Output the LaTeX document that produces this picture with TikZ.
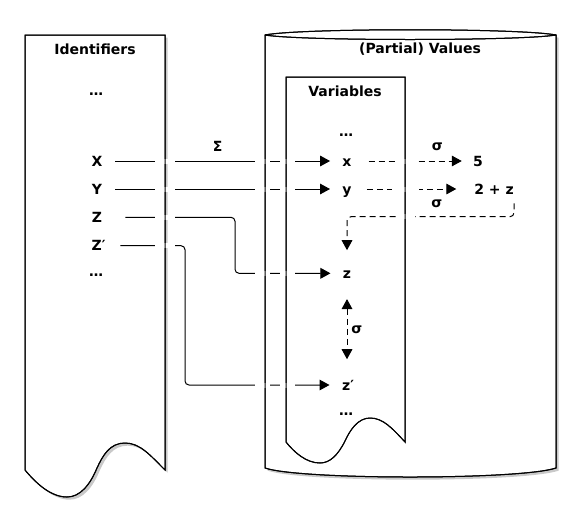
\documentclass[tikz,border=0pt]{standalone}
\usepackage{fontspec}
\setmainfont{DejaVu Sans}
\usetikzlibrary{arrows.meta, shadows}

\tikzset{
    lbl/.style={font=\fontsize{10.5}{12}\selectfont\bfseries, text height=7.6pt, text depth=0pt},
    outline/.style={draw=black, line width=0.75pt},
    shaded/.style={fill=white, drop shadow={shadow xshift=2pt, shadow yshift=-2pt, opacity=0.3, fill=black!70}},
    link/.style={line width=0.75pt, rounded corners=3pt},
    linkarr/.style={link, -{Triangle[length=7.5pt, width=8pt]}},
    sigarr/.style={line width=0.75pt, rounded corners=3pt, dash pattern=on 4.5pt off 3pt, -{Triangle[length=7.5pt, width=8pt]}},
    sigboth/.style={sigarr, {Triangle[length=7.5pt, width=8pt]}-{Triangle[length=7.5pt, width=8pt]}},
    gapmask/.style={fill=white}
}

% outlines of the three containers
\def\idtape{(25,35) -- (165,35) -- (165,470) .. controls (150,455) and (140,443) .. (125,443) .. controls (110,443) and (103,455) .. (97,468) .. controls (90,485) and (80,497) .. (67,497) .. controls (50,497) and (35,482) .. (25,470) -- cycle}
\def\vartape{(286,77) -- (405,77) -- (405,442) .. controls (392,428) and (383,418) .. (370,418) .. controls (358,418) and (350,430) .. (345,441) .. controls (338,455) and (330,463) .. (320,463) .. controls (306,463) and (294,452) .. (286,442) -- cycle}
\def\cylbody{(265,35) -- (265,468) .. controls (300,480) and (520,480) .. (556,468) -- (556,35) .. controls (520,28) and (300,28) .. (265,35) -- cycle}
\def\cyltop{(265,35) .. controls (300,41) and (520,41) .. (556,35)}

\begin{document}
\begin{tikzpicture}[x=0.75pt, y=-0.75pt]
    \useasboundingbox (0,0) rectangle (580,504);
    % containers
    \path[shaded] \idtape;
    \path[shaded] \cylbody;
    \fill[white] \vartape;
    \draw[outline] \idtape;
    \draw[outline] \cylbody;
    \draw[outline] \cyltop;
    \draw[outline] \vartape;
    % titles
    \node[lbl] (idtitle) at (95,49) {Identifiers};
    \node[lbl] (valtitle) at (420,48.5) {(Partial) Values};
    \node[lbl] (vartitle) at (345,91) {Variables};
    % identifiers
    \node[lbl] (iddots) at (96,90) {…};
    \node[lbl] (X) at (97,161) {X};
    \node[lbl] (Y) at (97,189) {Y};
    \node[lbl] (Z) at (97,217.3) {Z};
    \node[lbl, anchor=west] (Zp) at (87,245.7) {Z′};
    \node[lbl] (iddots2) at (96,271) {…};
    % variables
    \node[lbl] (vardots) at (346,131) {…};
    \node[lbl] (x) at (347,161) {x};
    \node[lbl] (y) at (347,189) {y};
    \node[lbl] (z) at (347,273.3) {z};
    \node[lbl, anchor=west] (zp) at (337.5,385) {z′};
    \node[lbl] (vardots2) at (346,410.6) {…};
    % values
    \node[lbl] (five) at (478,161) {5};
    \node[lbl] (twoz) at (494,189) {2 + z};
    % labels
    \node[lbl] (sigmaenv) at (217.7,146.6) {Σ};
    \node[lbl] (sigx) at (437.3,145.6) {σ};
    \node[lbl] (sigy) at (436.7,202.2) {σ};
    \node[lbl] (sigz) at (356.7,328.2) {σ};
    \coordinate (zbend) at (235,0);
    \coordinate (zpbend) at (185,0);
    \coordinate (sbend) at (0,216.7);
    % environment links
    \draw[linkarr, shorten <=6.2pt, shorten >=5.8pt] (X) -- (x);
    \draw[linkarr, shorten <=6.2pt, shorten >=5.8pt] (Y) -- (y);
    \draw[linkarr, shorten <=14pt, shorten >=5.8pt] (Z.east) -- (Z.east -| zbend) -- (zbend |- z.west) -- (z.west);
    \draw[linkarr, shorten <=7.5pt, shorten >=6pt] (Zp.east) -- (Zp.east -| zpbend) -- (zpbend |- zp.west) -- (zp.west);
    % store links
    \draw[sigarr, shorten <=9.2pt, shorten >=5pt] (x) -- (five);
    \draw[sigarr, shorten <=8pt, shorten >=10pt] (y) -- (twoz);
    \draw[sigarr, shorten <=3.4pt, shorten >=10pt] ([xshift=-3.3pt]twoz.south east) |- (z.north |- sbend) -- (z.north);
    \draw[sigboth, shorten <=12pt, shorten >=12pt] (z) -- (zp.north -| z);
    % gaps where links pass the container edges
    \foreach \xa/\xb/\yy in {155/175/161, 155/175/189, 155/175/217.3, 155/175/245.7,
        255/270/161, 255/270/189, 255/270/273.3, 255/270/385,
        280/295/161, 280/295/189, 280/295/273.3, 280/295/385,
        396/415/161, 392/419/189, 397/415/216.7}
        \fill[gapmask] (\xa,\yy-2.5) rectangle (\xb,\yy+2.5);
    \draw[outline] \idtape;
    \draw[outline] \cylbody;
    \draw[outline] \cyltop;
    \draw[outline] \vartape;
\end{tikzpicture}
\end{document}
